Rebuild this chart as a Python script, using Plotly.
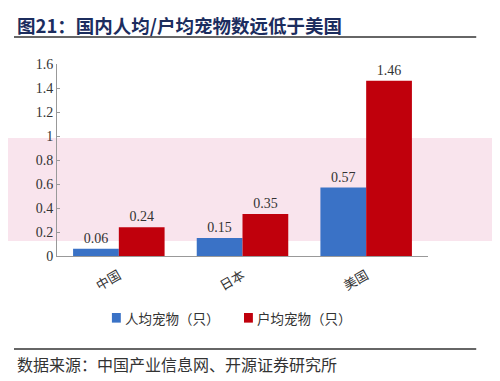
import plotly.graph_objects as go

categories = ["中国", "日本", "美国"]
per_person = [0.06, 0.15, 0.57]
per_household = [0.24, 0.35, 1.46]
per_person_labels = ["0.06", "0.15", "0.57"]
per_household_labels = ["0.24", "0.35", "1.46"]
series_names = ["人均宠物（只）", "户均宠物（只）"]
series_colors = ["#3a72c6", "#c0000c"]
y_ticks = [0, 0.2, 0.4, 0.6, 0.8, 1, 1.2, 1.4, 1.6]
y_tick_text = ["0", "0.2", "0.4", "0.6", "0.8", "1", "1.2", "1.4", "1.6"]

serif = "Liberation Serif, Times New Roman, serif"
cjk = "Noto Sans CJK SC, sans-serif"

fig = go.Figure()
fig.add_trace(go.Bar(
    x=categories, y=per_person, name=series_names[0],
    marker=dict(color=series_colors[0], line=dict(width=0)),
    text=per_person_labels, textposition="outside", cliponaxis=False,
    textfont=dict(family=serif, size=14, color="#333333"),
))
fig.add_trace(go.Bar(
    x=categories, y=per_household, name=series_names[1],
    marker=dict(color=series_colors[1], line=dict(width=0)),
    text=per_household_labels, textposition="outside", cliponaxis=False,
    textfont=dict(family=serif, size=14, color="#333333"),
))

# page body has an 8px margin; compensate so the plot lands where the reference has it
fig.update_layout(
    width=492, height=373,
    margin=dict(l=49, r=72, t=56, b=125, autoexpand=False),
    paper_bgcolor="white", plot_bgcolor="rgba(0,0,0,0)",
    barmode="group", bargap=0.26, bargroupgap=0,
    showlegend=False,
    xaxis=dict(showline=True, linecolor="#999999", linewidth=1, ticks="",
               tickangle=-30, tickfont=dict(family=cjk, size=13, color="#333333"),
               ticklabelstandoff=6,
               range=[-0.5, 2.5], showgrid=False),
    yaxis=dict(range=[0, 1.6], tickvals=y_ticks, ticktext=y_tick_text,
               showline=True, linecolor="#999999", linewidth=1,
               ticks="inside", ticklen=3, tickcolor="#999999",
               tickfont=dict(family=serif, size=14, color="#333333"),
               showgrid=False, zeroline=False),
    shapes=[
        dict(type="rect", xref="paper", yref="paper", x0=-0.16, x1=1.2, y0=0.078, y1=0.615,
             fillcolor="#f9e4ed", line=dict(width=0), layer="below"),
        dict(type="line", xref="paper", yref="paper", x0=-0.116, x1=1.13, y0=1.14, y1=1.14,
             line=dict(color="#333333", width=1.5)),
        dict(type="line", xref="paper", yref="paper", x0=-0.116, x1=1.13, y0=-0.484, y1=-0.484,
             line=dict(color="#333333", width=1.5)),
        dict(type="rect", xref="paper", yref="paper", x0=0.148, x1=0.172, y0=-0.297, y1=-0.347,
             fillcolor=series_colors[0], line=dict(width=0)),
        dict(type="rect", xref="paper", yref="paper", x0=0.504, x1=0.528, y0=-0.297, y1=-0.347,
             fillcolor=series_colors[1], line=dict(width=0)),
    ],
    annotations=[
        dict(text="<b>图21：国内人均/户均宠物数远低于美国</b>", xref="paper", yref="paper",
             x=-0.113, y=1.203, xanchor="left", yanchor="middle", showarrow=False,
             font=dict(family=cjk, size=18.5, color="#1c2d5e")),
        dict(text=series_names[0], xref="paper", yref="paper",
             x=0.177, y=-0.322, xanchor="left", yanchor="middle", showarrow=False,
             font=dict(family=cjk, size=13.5, color="#333333")),
        dict(text=series_names[1], xref="paper", yref="paper",
             x=0.533, y=-0.322, xanchor="left", yanchor="middle", showarrow=False,
             font=dict(family=cjk, size=13.5, color="#333333")),
        dict(text="数据来源：中国产业信息网、开源证券研究所", xref="paper", yref="paper",
             x=-0.113, y=-0.5625, xanchor="left", yanchor="middle", showarrow=False,
             font=dict(family=cjk, size=16, color="#333333")),
    ],
)

fig.write_html("out.html")
